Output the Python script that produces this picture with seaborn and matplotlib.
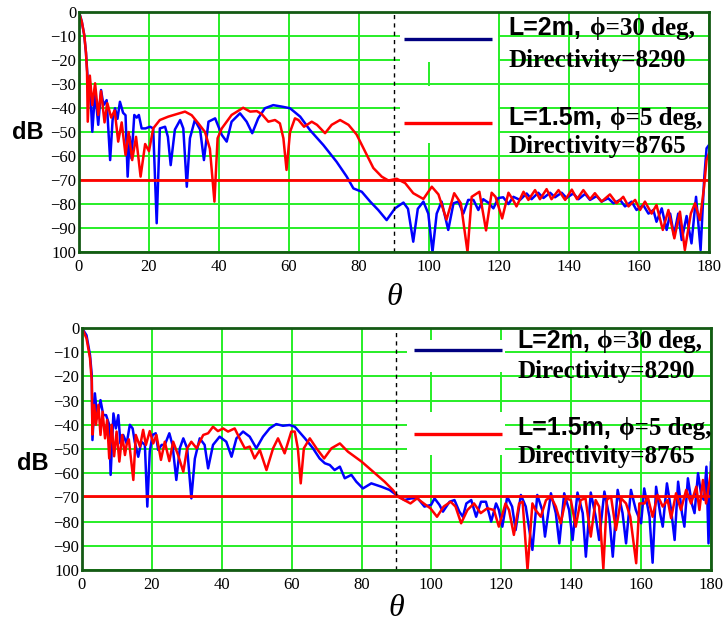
import numpy as np
import pandas as pd
import matplotlib
matplotlib.use("Agg")
import matplotlib.pyplot as plt
from matplotlib.patches import Rectangle
import seaborn as sns

sns.set_style("white")
plt.rcParams['font.family'] = ['Liberation Serif', 'DejaVu Serif']
plt.rcParams['text.color'] = 'black'
plt.rcParams['axes.labelcolor'] = 'black'
plt.rcParams['xtick.color'] = 'black'
plt.rcParams['ytick.color'] = 'black'

# ---- data (theta in deg, level in dB) ----
top_blue_theta = [0, 0.8, 1.5, 2.0, 2.4, 2.7, 3.1, 3.8, 4.6, 5.5, 6.3, 7, 7.9, 8.9, 9.6, 10.3, 11, 11.7, 12.6, 13.3,
                  13.9, 14.5, 15, 15.8, 16.5, 17.1, 17.9, 19, 20.3, 21.2, 22.2, 23.1, 24.6, 25.4, 26.2, 27.4, 28.9,
                  29.8, 30.8, 31.7, 33.1, 34.6, 35.7, 37, 38.9, 40.8, 42.2, 43.6, 46, 47.9, 49.5, 51.2, 53.1, 55.5,
                  57.9, 60.3, 63.2, 66, 69.8, 73.6, 76.5, 78.4, 80.8, 83.2, 85.5, 87.9, 90.3, 92.7, 94, 95.5, 96.8,
                  98.4, 99.8, 101, 102.2, 103.6, 105.5, 107, 108.4, 109.8, 111.2, 112.7, 114.1, 115.5, 117, 118.4,
                  119.8, 121.2, 122.7, 124.1, 126, 127.9, 129.3, 131.2, 132.7, 134.6, 136, 137.9, 139.3, 141.2,
                  142.7, 144.6, 146, 147.9, 149.3, 151.2, 152.7, 154.6, 156, 157.9, 159.3, 161.2, 162.7, 164.1, 165,
                  166.5, 167.9, 168.9, 170, 171.2, 172.2, 173.6, 175, 176.3, 177.6, 178.6, 179.3, 180]
top_blue_db = [0, -4, -9.6, -17, -26, -31, -29, -49.9, -33.2, -47, -32.5, -38.8, -36.7, -61.7, -45, -40.1, -44.5,
               -37.4, -42, -43, -68.6, -52, -61, -42.9, -44, -42.9, -48.5, -48.5, -47.8, -48.5, -88, -48.5, -47.8,
               -52, -63.8, -49, -45, -48.5, -72.8, -52.6, -45, -49, -61.7, -45.7, -44.3, -51.2, -54, -45.7, -42.2,
               -45.7, -50.5, -44.3, -40.1, -38.8, -39.4, -40.1, -43.6, -49.2, -55.4, -62.4, -68.6, -73.5, -74.9,
               -79, -82.5, -86.7, -81.8, -79.4, -82, -95.7, -82, -79, -84, -100, -84, -79, -90.8, -79.7, -79, -84,
               -78.3, -78.3, -82.5, -78, -79.5, -81.8, -77.5, -77.2, -80, -77, -78.3, -75.6, -78, -75.3, -77.5,
               -75.3, -77.2, -75.3, -77.5, -75.6, -78, -75.8, -78.3, -76.7, -79, -77.6, -79.7, -78.3, -81, -79,
               -82.5, -80.4, -84, -82.5, -87.4, -81.8, -90.8, -84, -93, -84, -95, -85, -96.4, -77, -99.2, -70,
               -56.8, -55.4]

top_red_theta = [0, 0.8, 1.5, 2.0, 2.3, 2.5, 3.1, 3.8, 4.6, 5.5, 6.3, 7.3, 8.1, 9.2, 10.2, 11.2, 12.2, 13.3, 14.2,
                 15.2, 16.3, 17.6, 18.9, 20, 21.2, 23.1, 25.5, 28, 30.3, 32.2, 34.1, 36, 37.4, 38.7, 39.6, 40.8,
                 43.6, 46.9, 48.9, 50.8, 52.2, 54.1, 56, 57.4, 58.4, 59.3, 60.3, 61.7, 62.7, 64.3, 66.5, 68, 70.3,
                 72.2, 74.6, 77, 79.3, 81.7, 84.1, 86.5, 88.4, 90.8, 93.2, 95.5, 98.4, 100.8, 102.7, 105, 107.2,
                 109.1, 111, 112.2, 114.4, 116.3, 117.9, 119, 120.9, 122.7, 124.1, 125, 127, 128.4, 130.3, 131.7,
                 133.6, 135, 137, 138.9, 140.8, 142.3, 144.1, 146, 147.4, 149.3, 151.7, 153.6, 155.5, 157, 158.9,
                 160.3, 161.7, 163.6, 165, 166.8, 168.4, 170.1, 171.7, 173.1, 174.8, 176, 177.4, 178.6, 179.3, 180]
top_red_db = [0, -4, -9.6, -17, -25, -45.7, -26.5, -38.8, -29.7, -42.9, -33, -46, -38, -44, -41, -54, -46, -59.6,
              -50, -61.7, -52, -68.6, -55, -58, -48.5, -45, -43.6, -42.5, -41.5, -43, -46.4, -50, -57, -79, -52.6,
              -48.5, -42.9, -39.9, -41.5, -41.3, -42.5, -45.7, -45, -46.4, -52.6, -65.8, -50, -44.3, -45, -47.8,
              -45.7, -47, -50.5, -47, -45, -47, -51, -58, -65, -68.6, -70.2, -69.5, -71.3, -75.5, -77.9, -72.8,
              -76, -86.5, -75.5, -79.7, -100, -77, -74.9, -91, -75.3, -77, -86, -75.3, -78.5, -81, -74.9, -78.3,
              -74.2, -78, -73.8, -78, -74.2, -78.3, -74, -78, -74.2, -78, -75.5, -79, -76, -79.7, -77, -81, -78.3,
              -82.5, -79, -84, -80.4, -90.8, -82.5, -94.3, -83.2, -99.2, -84, -79.7, -86.7, -72.8, -61.7, -58.9]

bot_blue_theta = [0, 1.3, 2.3, 2.8, 3.0, 3.7, 4.4, 5.3, 6.1, 6.9, 7.8, 8.2, 9, 9.7, 10.4, 11, 11.8, 12.8, 13.7,
                  14.5, 15.1, 16.1, 17, 18, 18.7, 19.4, 20.2, 21.1, 21.8, 22.8, 23.7, 25, 25.9, 27, 28, 29, 30.1,
                  31.3, 32.3, 33.7, 35.1, 36.1, 37.5, 39.4, 41.3, 42.8, 44.2, 46.1, 48, 49.9, 51.8, 53.7, 55.6,
                  57.5, 59.4, 60.9, 63.8, 66.1, 68, 69.5, 70.9, 72.3, 73.8, 75.2, 77.1, 78.5, 80.4, 82.8, 85.7, 88,
                  90, 92.3, 94.2, 96.1, 98, 99.9, 100.9, 102.3, 103.3, 105.2, 106.6, 108, 109, 110, 111.4, 112.8,
                  114.2, 115.6, 117.1, 118.5, 119.3, 120.3, 121.7, 123.1, 124.1, 125.6, 127, 128.9, 130.3, 131.7,
                  132.5, 134.2, 135.6, 136.6, 138, 139.4, 140.4, 141.8, 143.3, 144.2, 145.6, 147, 148, 149.5, 150.9,
                  151.9, 153.3, 154.7, 155.7, 157.1, 158.5, 160, 160.9, 162.4, 163.3, 164.3, 165.5, 166.2, 167.4,
                  168.6, 169.6, 170.6, 171.7, 172.4, 173.4, 174.5, 175.3, 176.3, 177.3, 178, 178.7, 179.3, 180]
bot_blue_db = [0, -3, -11.2, -19.4, -46.3, -27, -37.3, -29.8, -36, -36, -40, -60.7, -35.3, -41.5, -36, -47.7,
               -44.2, -47.7, -40, -41.5, -47, -53.2, -47, -48.3, -73.8, -51, -44.2, -43.5, -50.4, -48.3, -48.3,
               -43.5, -48.3, -62.8, -49.7, -45.6, -49.7, -70.4, -54, -45.6, -48.3, -58, -48.3, -44.9, -47, -53.2,
               -45.6, -42.8, -44.9, -49.7, -44.9, -41.5, -39.7, -40.4, -40.1, -40.8, -45.6, -49.7, -53.9, -55.9,
               -56.6, -58.7, -57.3, -62.1, -60.7, -63.5, -66.3, -64.2, -65.6, -66.9, -69, -71.1, -70.4, -70.4,
               -73.8, -73.1, -70.4, -73.1, -75.9, -71.8, -71.1, -75.9, -78, -72.5, -71.1, -78, -71.8, -71.8, -80,
               -72.5, -75.2, -82.1, -69.7, -73.8, -83.5, -69, -73.8, -91.7, -69, -75.2, -86.2, -68.3, -76.5, -89,
               -68.3, -75.2, -87.6, -68, -76.5, -94.5, -68, -77.9, -87.6, -67.6, -77.9, -94.5, -66.9, -76.5, -89,
               -66.9, -75.2, -80.7, -66.3, -77.9, -97, -65.6, -77, -82.1, -64.2, -75.2, -87.6, -63.5, -76.5,
               -82.1, -62.1, -72.5, -76.5, -60, -69.7, -71, -57.3, -89, -55.2]

bot_red_theta = [0, 1.3, 2.3, 2.8, 3.0, 3.5, 4.0, 4.7, 5.3, 5.9, 6.6, 7.2, 7.8, 8.5, 9.2, 9.9, 10.7, 11.5, 12.3,
                 12.8, 13.4, 14.7, 15.4, 16.6, 17.5, 18.3, 19.4, 20.4, 21.3, 22.6, 23.7, 25, 26.1, 27.5, 29, 30.1,
                 31.3, 32.8, 34.7, 36.1, 37.5, 38.9, 40.4, 41.8, 43.7, 45.1, 46.6, 48, 49.4, 50.9, 52.8, 54.7,
                 56.1, 58, 59.9, 60.9, 61.8, 62.6, 63.5, 65.2, 67.1, 69.3, 71.4, 73.8, 76.1, 80, 83.8, 86.6, 89,
                 90.4, 92.1, 94, 95.9, 97.8, 99.7, 101.6, 103.5, 105.5, 106.9, 108.5, 110.3, 112.2, 114.1, 116,
                 117.9, 119.3, 121.2, 122.2, 123.6, 125.1, 126.1, 127.5, 128.9, 129.8, 131.3, 132.8, 134.2, 135.6,
                 137, 138.5, 139.9, 141.3, 142.7, 144.1, 145.6, 147, 148, 149.2, 150.2, 151.4, 152.8, 154.3, 155.7,
                 156.9, 158.6, 159.5, 161, 161.9, 163.3, 164.7, 166.2, 167.6, 168.6, 170, 171.4, 172.9, 174.3,
                 175.8, 176.7, 177.7, 178.6, 180]
bot_red_db = [0, -4.3, -12.5, -22, -44, -31.8, -40, -31.8, -44.2, -34.6, -45.6, -38, -53.9, -40, -53, -42.8,
              -55.2, -44.2, -52.5, -48, -46, -62.8, -44.2, -49, -42.1, -48.3, -42.6, -47.7, -44.2, -54.5, -47, -55,
              -47, -52.5, -59.4, -49.7, -47, -49.7, -44.2, -43.5, -40.8, -42.6, -41.5, -42.8, -41.5, -45.6, -49.7,
              -49, -53.9, -50.4, -58.7, -49.7, -45.6, -51.8, -42.8, -42.8, -50, -64.2, -49.7, -45.6, -49.7, -53.9,
              -49.7, -47.7, -51.1, -55.2, -60, -63.5, -67, -69.7, -71, -72.5, -70.4, -72.5, -74.5, -78, -73.8,
              -71.8, -73.8, -80.7, -75.2, -72.5, -76.5, -74.5, -75.2, -82.1, -72.5, -75.2, -85.5, -72.5, -71.8,
              -100, -72.5, -75.2, -78, -71.1, -69.7, -73.8, -80.7, -70.4, -71.1, -82.1, -71.1, -70.4, -86.2, -71.1,
              -73.8, -99.5, -71, -69.7, -83.5, -70.4, -72.5, -78, -97.2, -72.5, -72.5, -69.7, -78, -69, -73.8,
              -71.1, -78.6, -68.3, -75.2, -66.9, -72.5, -65.6, -75.2, -62.8, -72.5, -59.4]

thresholds = [-70, -69.3]
x_ticks = [0, 20, 40, 60, 80, 100, 120, 140, 160, 180]
y_ticks = [0, -10, -20, -30, -40, -50, -60, -70, -80, -90, -100]
y_tick_labels = ['0', '−10', '−20', '−30', '−40', '−50', '−60', '−70', '−80', '−90', '100']
first_line = ['L=2m,', 'ϕ=30 deg,', 'Directivity=8290']
second_line = ['L=1.5m,', 'ϕ=5 deg,', 'Directivity=8765']

GRID = '#27ee27'
FRAME = '#145a14'


def to_frame(theta, db):
    return pd.DataFrame({'theta': theta, 'dB': db})


def style_axes(ax):
    ax.set_xlim(0, 180)
    ax.set_ylim(-100, 0)
    ax.set_xticks(x_ticks)
    ax.set_yticks(y_ticks)
    ax.set_yticklabels(y_tick_labels)
    ax.grid(True, color=GRID, lw=1.4)
    ax.set_axisbelow(True)
    ax.tick_params(length=0, labelsize=12, colors='black')
    ax.tick_params(axis='x', pad=5)
    ax.tick_params(axis='y', pad=2)
    for s in ax.spines.values():
        s.set_color(FRAME)
        s.set_linewidth(2)


# legend drawn by hand: white patch behind the sample line, text straight on the grid
def draw_key(ax, box, y_line, x_line, color, x_text, x_phi, y_base, labels):
    ax.add_patch(Rectangle((box[0], box[2]), box[1] - box[0], box[3] - box[2],
                           facecolor='white', edgecolor='none', zorder=1))
    ax.plot(x_line, [y_line, y_line], color=color, lw=2.4, zorder=3, solid_capstyle='butt')
    ax.text(x_text, y_base[0], labels[0], fontfamily='Liberation Sans', fontweight='bold',
            fontsize=18, color='black', zorder=4)
    ax.text(x_phi, y_base[0], labels[1], family=['Liberation Serif', 'DejaVu Serif'], fontweight='bold',
            fontsize=18, color='black', zorder=4)
    ax.text(x_text, y_base[1], labels[2], fontfamily='Liberation Serif', fontweight='bold',
            fontsize=18, color='black', zorder=4)


def draw_panel(ax, blue, red, thr, keys, db_pos, pad):
    style_axes(ax)
    sns.lineplot(data=blue, x='theta', y='dB', color='#0000ff', lw=1.8, ax=ax,
                 estimator=None, sort=False, legend=False, zorder=2)
    sns.lineplot(data=red, x='theta', y='dB', color='#ff0000', lw=1.8, ax=ax,
                 estimator=None, sort=False, legend=False, zorder=2)
    ax.axhline(thr, color='#ff0000', lw=2, zorder=2.5)
    ax.axvline(90, color='black', lw=1, ls=(0, (3, 3)), zorder=2.5)
    ax.set_xlabel('θ', fontsize=23, fontstyle='italic', labelpad=pad, color='black')
    ax.set_ylabel('')
    for k in keys:
        draw_key(ax, *k)
    ax.text(db_pos[0], db_pos[1], 'dB', transform=ax.transAxes, fontfamily='Liberation Sans',
            fontweight='bold', fontsize=17, color='black', ha='center', va='center')


fig = plt.figure(figsize=(7.28, 6.23), dpi=100)
ax1 = fig.add_axes([0.1085, 0.5955, 0.8654, 0.3852])
ax2 = fig.add_axes([0.1126, 0.0851, 0.864, 0.3884])

top_keys = [
    ((91.7, 119.7, -21, 0), -11.25, [92.9, 118], '#000080', 122.6, 146, [-9.6, -22.8], first_line),
    ((91.7, 119.7, -54.7, -31), -46.25, [92.9, 118], '#ff0000', 122.6, 151.7, [-47.1, -58.9], second_line),
]
bot_keys = [
    ((93.1, 121, -18, -5), -9.1, [95.1, 120.3], '#000080', 124.7, 147.5, [-8.4, -20.8], first_line),
    ((93.1, 121, -52.5, -34.6), -43.9, [95.1, 120.3], '#ff0000', 124.7, 153.7, [-44.2, -55.9], second_line),
]

draw_panel(ax1, to_frame(top_blue_theta, top_blue_db), to_frame(top_red_theta, top_red_db),
           thresholds[0], top_keys, (-0.081, 0.5), 6)
draw_panel(ax2, to_frame(bot_blue_theta, bot_blue_db), to_frame(bot_red_theta, bot_red_db),
           thresholds[1], bot_keys, (-0.078, 0.442), 1)

fig.savefig('out.png', dpi=100, facecolor='white')
